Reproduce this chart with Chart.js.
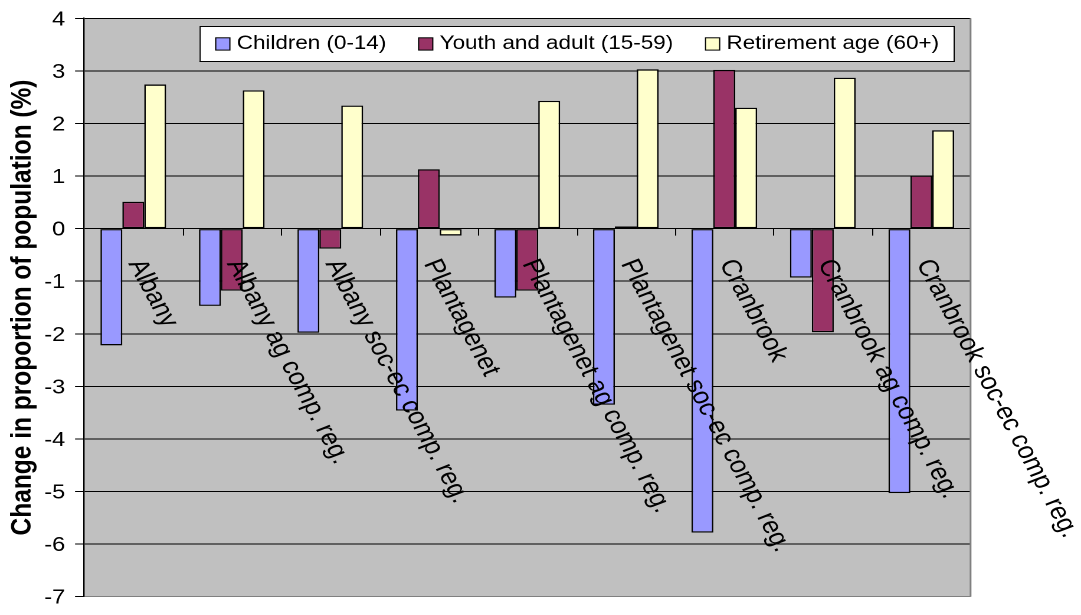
<!DOCTYPE html>
<html>
<head>
<meta charset="utf-8">
<script src="https://cdn.jsdelivr.net/npm/chart.js@4/dist/chart.umd.min.js"></script>
<style>
  html, body { margin: 0; padding: 0; background: #ffffff; overflow: hidden; }
  #wrap { width: 1081px; height: 615px; overflow: hidden; }
  #c { display: block; transform-origin: 0 0; }
</style>
</head>
<body>
<div id="wrap"><canvas id="c" width="916" height="615"></canvas></div>
<script>
// Regions compared
const categories = [
  'Albany',
  'Albany ag comp. reg.',
  'Albany soc-ec comp. reg.',
  'Plantagenet',
  'Plantagenet ag comp. reg.',
  'Plantagenet soc-ec comp. reg.',
  'Cranbrook',
  'Cranbrook ag comp. reg.',
  'Cranbrook soc-ec comp. reg.'
];

// Change in proportion of population, percentage points
const children = [-2.22, -1.47, -1.98, -3.46, -1.31, -3.35, -5.78, -0.93, -5.03];
const youthAdult = [0.51, -1.18, -0.38, 1.13, -1.18, 0.04, 3.02, -1.97, 1.01];
const retirement = [2.74, 2.63, 2.34, -0.13, 2.43, 3.03, 2.30, 2.87, 1.87];

const seriesNames = ['Children (0-14)', 'Youth and adult (15-59)', 'Retirement age (60+)'];
const seriesColors = ['#9999FF', '#993366', '#FFFFCC'];

const yMin = -7, yMax = 4, yStep = 1;
const yTitle = 'Change in proportion of population (%)';

// The canvas is laid out narrower and widened with a CSS scaleX,
// giving the broad, stretched lettering of the exported figure.
const W = 916, H = 615;
const SX = 1081 / W;
const FONT = 'Arial, "Liberation Sans", Helvetica, sans-serif';

const canvas = document.getElementById('c');
canvas.style.transform = 'scaleX(' + SX + ')';

const plotLeft = 71.2, plotRight = 822.4, plotTop = 16.7, plotBottom = 604.3;

const plotFrame = {
  id: 'plotFrame',
  beforeDraw(chart) {
    const { ctx, chartArea: a } = chart;
    ctx.save();
    ctx.fillStyle = '#ffffff';
    ctx.fillRect(0, 0, chart.width, chart.height);
    ctx.fillStyle = '#C0C0C0';
    ctx.fillRect(a.left, a.top, a.right - a.left, a.bottom - a.top);
    ctx.restore();
  },
  afterDatasetsDraw(chart) {
    const { ctx, chartArea: a, scales: { x, y } } = chart;
    const y0 = y.getPixelForValue(0);
    ctx.save();
    // right edge of the plot frame
    ctx.strokeStyle = '#808080';
    ctx.lineWidth = 1.5;
    ctx.beginPath();
    ctx.moveTo(a.right, a.top);
    ctx.lineTo(a.right, a.bottom);
    ctx.stroke();
    // category separators hanging below the zero line
    ctx.strokeStyle = '#000000';
    ctx.lineWidth = 1;
    for (let i = 1; i < categories.length; i++) {
      const xb = Math.round((x.getPixelForValue(i - 1) + x.getPixelForValue(i)) / 2) + 0.5;
      ctx.beginPath();
      ctx.moveTo(xb, y0);
      ctx.lineTo(xb, y0 + 7);
      ctx.stroke();
    }
    // rotated category names sitting on the zero line
    ctx.fillStyle = '#000000';
    ctx.font = '23.5px ' + FONT;
    ctx.textAlign = 'left';
    ctx.textBaseline = 'middle';
    categories.forEach((name, i) => {
      ctx.save();
      ctx.translate(x.getPixelForValue(i) + 1.5, y0 + 32);
      ctx.rotate(65.5 * Math.PI / 180);
      ctx.fillText(name, 0, 0);
      ctx.restore();
    });
    ctx.restore();
  },
  afterDraw(chart) {
    // boxed legend across the top of the plot
    const { ctx } = chart;
    const sets = chart.data.datasets;
    const boxLeft = 168.6, boxTop = 26, boxBottom = 61;
    const midY = (boxTop + boxBottom) / 2 + 0.5;
    ctx.save();
    ctx.font = '19px ' + FONT;
    let xPos = boxLeft + 14.2;
    const items = [];
    sets.forEach((ds) => {
      const tw = ctx.measureText(ds.label).width;
      items.push({ x: xPos, ds, tw });
      xPos += 17.8 + tw + 27.4;
    });
    const boxRight = xPos - 27.4 + 12.4;
    ctx.fillStyle = '#ffffff';
    ctx.fillRect(boxLeft, boxTop, boxRight - boxLeft, boxBottom - boxTop);
    ctx.strokeStyle = '#000000';
    ctx.lineWidth = 1;
    ctx.strokeRect(Math.round(boxLeft) + 0.5, boxTop + 0.5, Math.round(boxRight - boxLeft), boxBottom - boxTop);
    items.forEach((it) => {
      ctx.fillStyle = it.ds.backgroundColor;
      ctx.fillRect(it.x, midY - 6.2, 12, 12.3);
      ctx.strokeStyle = '#000000';
      ctx.strokeRect(it.x, midY - 6.2, 12, 12.3);
      ctx.fillStyle = '#000000';
      ctx.textAlign = 'left';
      ctx.textBaseline = 'middle';
      ctx.fillText(it.ds.label, it.x + 17.8, midY);
    });
    ctx.restore();
  }
};

const seriesValues = [children, youthAdult, retirement];

new Chart(canvas, {
  type: 'bar',
  data: {
    labels: categories,
    datasets: seriesValues.map((vals, i) => ({
      label: seriesNames[i],
      data: vals,
      backgroundColor: seriesColors[i],
      borderColor: '#000000',
      borderWidth: 1.3,
      borderSkipped: false,
      categoryPercentage: 2 / 3,
      barPercentage: 1
    }))
  },
  options: {
    responsive: false,
    animation: false,
    devicePixelRatio: 2,
    layout: {
      padding: { left: 0, top: plotTop, right: W - plotRight, bottom: H - plotBottom }
    },
    plugins: {
      legend: { display: false },
      tooltip: { enabled: false }
    },
    scales: {
      x: { display: false },
      y: {
        min: yMin,
        max: yMax,
        afterFit(scale) { scale.width = plotLeft; },
        border: { display: true, color: '#000000', width: 1.2 },
        grid: {
          color: (c) => (c.tick && c.tick.value === yMin ? '#808080' : '#000000'),
          lineWidth: 1,
          drawTicks: true,
          tickLength: 7.6,
          tickColor: '#000000'
        },
        ticks: {
          stepSize: yStep,
          color: '#000000',
          padding: 8.3,
          labelOffset: 1.5,
          font: { family: FONT, size: 20, lineHeight: 1 }
        },
        title: {
          display: true,
          text: yTitle,
          color: '#000000',
          padding: { top: 4.5, bottom: 0 },
          font: { family: FONT, size: 24.5, weight: 'bold' }
        }
      }
    }
  },
  plugins: [plotFrame]
});
</script>
</body>
</html>
